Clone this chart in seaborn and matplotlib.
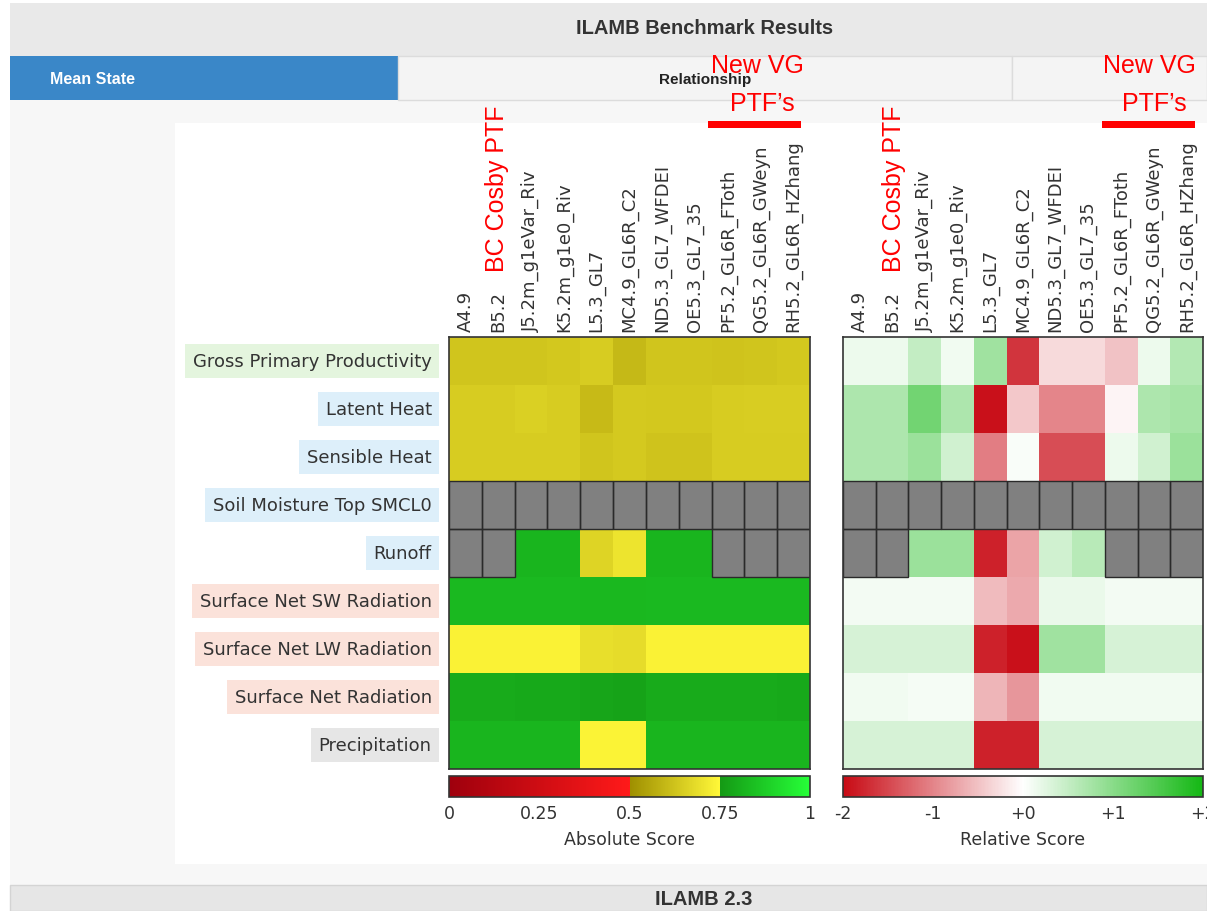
import numpy as np
import pandas as pd
import matplotlib
matplotlib.use("Agg")
import matplotlib.pyplot as plt
from matplotlib.colors import ListedColormap, LinearSegmentedColormap
from matplotlib.patches import Rectangle
import seaborn as sns

# ---------------------------------------------------------------- data
models = ["A4.9", "B5.2", "J5.2m_g1eVar_Riv", "K5.2m_g1e0_Riv", "L5.3_GL7",
          "MC4.9_GL6R_C2", "ND5.3_GL7_WFDEI", "OE5.3_GL7_35",
          "PF5.2_GL6R_FToth", "QG5.2_GL6R_GWeyn", "RH5.2_GL6R_HZhang"]

variables = ["Gross Primary Productivity", "Latent Heat", "Sensible Heat",
             "Soil Moisture Top SMCL0", "Runoff", "Surface Net SW Radiation",
             "Surface Net LW Radiation", "Surface Net Radiation", "Precipitation"]

# label background by variable group
label_colors = ["#e4f5de", "#ddeffa", "#ddeffa", "#ddeffa", "#ddeffa",
                "#fbe2da", "#fbe2da", "#fbe2da", "#e6e6e6"]

nan = np.nan
abs_gpp = [0.63, 0.63, 0.63, 0.635, 0.645, 0.60, 0.63, 0.63, 0.625, 0.63, 0.635]
abs_le = [0.645, 0.645, 0.655, 0.645, 0.605, 0.64, 0.635, 0.635, 0.645, 0.65, 0.65]
abs_sh = [0.645, 0.645, 0.645, 0.645, 0.63, 0.64, 0.625, 0.625, 0.645, 0.645, 0.645]
abs_sm = [nan] * 11
abs_ro = [nan, nan, 0.82, 0.82, 0.665, 0.705, 0.82, 0.82, nan, nan, nan]
abs_sw = [0.83, 0.83, 0.83, 0.83, 0.825, 0.825, 0.83, 0.83, 0.83, 0.83, 0.83]
abs_lw = [0.738, 0.738, 0.738, 0.738, 0.69, 0.685, 0.738, 0.738, 0.738, 0.738, 0.738]
abs_rn = [0.795, 0.795, 0.79, 0.79, 0.78, 0.775, 0.795, 0.795, 0.795, 0.795, 0.79]
abs_pr = [0.82, 0.82, 0.82, 0.82, 0.74, 0.74, 0.82, 0.82, 0.82, 0.82, 0.82]

rel_gpp = [0.15, 0.15, 0.5, 0.12, 0.8, -1.65, -0.3, -0.3, -0.5, 0.15, 0.65]
rel_le = [0.7, 0.7, 1.2, 0.7, -1.95, -0.45, -1.0, -1.0, -0.08, 0.7, 0.75]
rel_sh = [0.7, 0.7, 0.85, 0.4, -1.05, 0.05, -1.45, -1.45, 0.15, 0.4, 0.85]
rel_sm = [nan] * 11
rel_ro = [nan, nan, 0.85, 0.85, -1.8, -0.75, 0.4, 0.6, nan, nan, nan]
rel_sw = [0.1, 0.1, 0.1, 0.1, -0.55, -0.7, 0.18, 0.18, 0.1, 0.1, 0.1]
rel_lw = [0.35, 0.35, 0.35, 0.35, -1.8, -1.95, 0.8, 0.8, 0.35, 0.35, 0.35]
rel_rn = [0.12, 0.12, 0.08, 0.08, -0.6, -0.85, 0.12, 0.12, 0.12, 0.12, 0.12]
rel_pr = [0.35, 0.35, 0.35, 0.35, -1.8, -1.8, 0.35, 0.35, 0.35, 0.35, 0.35]

abs_ticks = [0, 0.25, 0.5, 0.75, 1]
abs_ticklabels = ["0", "0.25", "0.5", "0.75", "1"]
rel_ticks = [-2, -1, 0, 1, 2]
rel_ticklabels = ["-2", "-1", "+0", "+1", "+2"]

abs_df = pd.DataFrame([abs_gpp, abs_le, abs_sh, abs_sm, abs_ro,
                       abs_sw, abs_lw, abs_rn, abs_pr],
                      index=variables, columns=models)
rel_df = pd.DataFrame([rel_gpp, rel_le, rel_sh, rel_sm, rel_ro,
                       rel_sw, rel_lw, rel_rn, rel_pr],
                      index=variables, columns=models)

# ---------------------------------------------------------------- colormaps
def ramp(c0, c1, n):
    c0, c1 = np.array(c0), np.array(c1)
    t = np.linspace(0, 1, n)[:, None]
    return c0 + (c1 - c0) * t

abs_cmap = ListedColormap(np.vstack([
    ramp((0.62, 0.00, 0.05), (1.00, 0.10, 0.10), 256),   # poor
    ramp((0.62, 0.56, 0.00), (1.00, 0.97, 0.22), 128),   # fair
    ramp((0.08, 0.60, 0.08), (0.15, 1.00, 0.22), 128),   # good
]))
rel_cmap = LinearSegmentedColormap.from_list(
    "rel", ["#c80a14", "#ffffff", "#14b814"])

# ---------------------------------------------------------------- figure
W, H = 1207, 912
sns.set_theme(style="white")
plt.rcParams["font.family"] = ["DejaVu Sans"]
TXT = "#333333"
LBL = 13

fig = plt.figure(figsize=(W / 100, H / 100), dpi=100)
fig.patch.set_facecolor("white")


def fx(x):
    return x / W


def fy(y):
    return 1 - y / H


def box(x0, y0, x1, y1, color, ec="none", lw=0, z=-5):
    fig.add_artist(Rectangle((fx(x0), fy(y1)), (x1 - x0) / W, (y1 - y0) / H,
                             transform=fig.transFigure, facecolor=color,
                             edgecolor=ec, linewidth=lw, zorder=z))


# page chrome
box(10, 4, 1207, 57, "#e9e9e9")
box(10, 101, 1207, 886, "#f7f7f7")
box(175, 124, 1207, 865, "#ffffff")
box(10, 57, 398, 101, "#3a87c8")
box(398, 57, 1012, 101, "#f4f4f4", ec="#dcdcdc", lw=1)
box(1012, 57, 1207, 101, "#f4f4f4", ec="#dcdcdc", lw=1)
box(10, 886, 1207, 912, "#e6e6e6", ec="#d4d4d4", lw=1)

fig.text(fx(705), fy(29), "ILAMB Benchmark Results", ha="center", va="center",
         fontsize=14.5, fontweight="bold", family="Liberation Sans", color=TXT)
fig.text(fx(92), fy(80), "Mean State", ha="center", va="center",
         fontsize=11.5, fontweight="bold", family="Liberation Sans", color="white")
fig.text(fx(705), fy(80), "Relationship", ha="center", va="center",
         fontsize=11, fontweight="bold", family="Liberation Sans", color="#222222")
fig.text(fx(704), fy(900), "ILAMB 2.3", ha="center", va="center",
         fontsize=14.5, fontweight="bold", family="Liberation Sans", color=TXT)


def draw_panel(df, cmap, vmin, vmax, rect, crect, ticks, ticklabels, title,
               show_rows):
    ax = fig.add_axes(rect)
    cax = fig.add_axes(crect)
    sns.heatmap(df, ax=ax, cmap=cmap, vmin=vmin, vmax=vmax, cbar_ax=cax,
                cbar_kws={"orientation": "horizontal"},
                xticklabels=True, yticklabels=True)
    # missing entries: grey cells with dark outlines
    ax.set_facecolor("#808080")
    for r, c in np.argwhere(df.isna().values):
        ax.add_patch(Rectangle((c, r), 1, 1, fill=False,
                               edgecolor="#2a2a2a", linewidth=1))
    ax.set_xlabel("")
    ax.set_ylabel("")
    ax.xaxis.tick_top()
    ax.set_xticks(np.arange(len(df.columns)) + 0.5)
    ax.set_xticklabels(df.columns, rotation=90, fontsize=LBL, color=TXT)
    ax.tick_params(axis="x", length=0, pad=4)
    for lbl in ax.get_xticklabels():
        lbl.set_va("bottom")
    if show_rows:
        ax.set_yticks(np.arange(len(df.index)) + 0.5)
        ax.set_yticklabels(df.index, rotation=0, fontsize=LBL, color=TXT)
        ax.tick_params(axis="y", length=0, pad=12.5)
        for lbl, c in zip(ax.get_yticklabels(), label_colors):
            lbl.set_bbox(dict(facecolor=c, edgecolor="none", pad=5.5))
    else:
        ax.set_yticks([])
    for s in ax.spines.values():
        s.set_visible(True)
        s.set_color("#333333")
        s.set_linewidth(1.2)

    cb = ax.collections[0].colorbar
    cb.set_ticks(ticks)
    cb.set_ticklabels(ticklabels)
    cax.tick_params(length=0, labelsize=12.5, pad=5, colors=TXT)
    cb.outline.set_visible(True)
    cb.outline.set_edgecolor("#333333")
    cb.outline.set_linewidth(1.2)
    cb.set_label(title, fontsize=12.5, color=TXT, labelpad=6)
    return ax


draw_panel(abs_df, abs_cmap, 0, 1,
           [fx(449), fy(770), 361 / W, 432 / H],
           [fx(449), fy(798), 361 / W, 21 / H],
           abs_ticks, abs_ticklabels, "Absolute Score", True)
draw_panel(rel_df, rel_cmap, -2, 2,
           [fx(843), fy(770), 360 / W, 432 / H],
           [fx(843), fy(798), 360 / W, 21 / H],
           rel_ticks, rel_ticklabels, "Relative Score", False)

# annotations on the model groups
RED = "#ff0000"
for cx_bc, cx_vg, bar in [(497, 757, (708, 801)), (894, 1149, (1102, 1195))]:
    fig.text(fx(cx_bc), fy(189), "BC Cosby PTF", rotation=90, ha="center",
             va="center", fontsize=18, family="Liberation Sans", color=RED,
             zorder=10)
    fig.text(fx(cx_vg), fy(66), "New VG", ha="center", va="center",
             fontsize=18, family="Liberation Sans", color=RED, zorder=10)
    fig.text(fx(cx_vg + 5), fy(104), "PTF\u2019s", ha="center", va="center",
             fontsize=18, family="Liberation Sans", color=RED, zorder=10)
    fig.add_artist(Rectangle((fx(bar[0]), fy(129)), (bar[1] - bar[0]) / W,
                             7 / H, transform=fig.transFigure,
                             facecolor=RED, edgecolor="none", zorder=10))

fig.savefig("out.png", dpi=100)
